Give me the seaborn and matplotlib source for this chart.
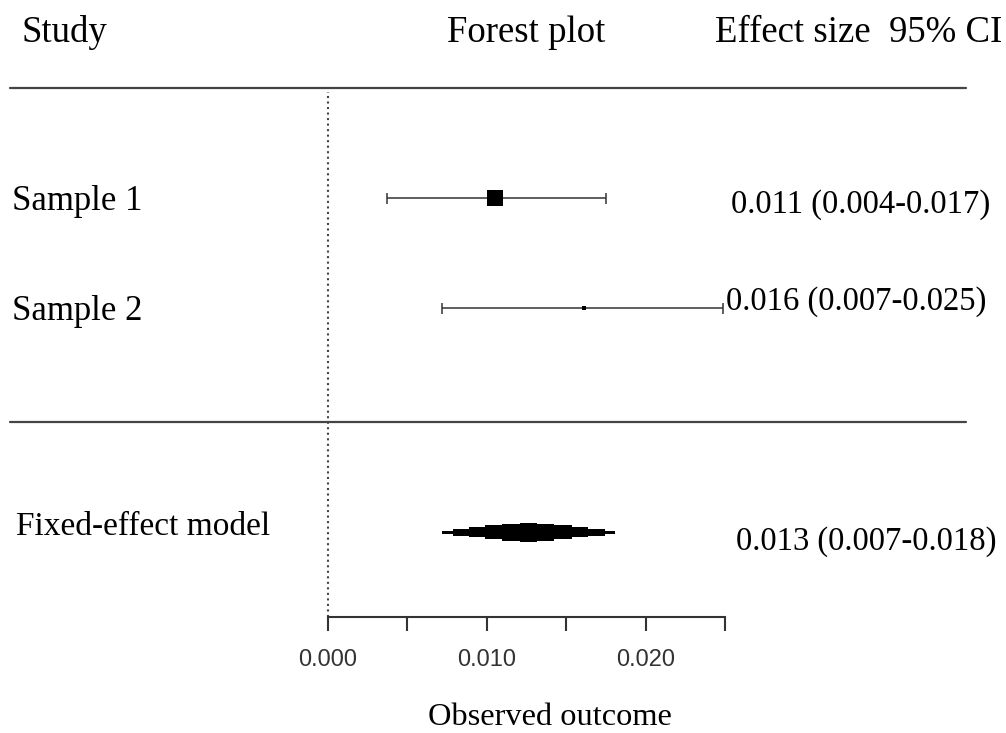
import numpy as np
import pandas as pd
import matplotlib
matplotlib.use("Agg")
import matplotlib.pyplot as plt
from matplotlib.lines import Line2D
import seaborn as sns

# %% dados
studies       = ["Sample 1", "Sample 2"]
estimates     = [0.0105, 0.0161]
ci_low        = [0.0037, 0.0072]
ci_high       = [0.0175, 0.0249]
weights       = [62, 38]
effect_labels = ["0.011 (0.004-0.017)", "0.016 (0.007-0.025)"]

pooled_name  = "Fixed-effect model"
pooled_est   = 0.0126
pooled_low   = 0.0072
pooled_high  = 0.0181
pooled_label = "0.013 (0.007-0.018)"

tick_values = [0.000, 0.005, 0.010, 0.015, 0.020, 0.025]
tick_labels = ["0.000", "", "0.010", "", "0.020", ""]

# %% layout (pixels of the 1006x733 canvas)
W, H = 1006, 733
ROW = 110                      # px between study rows
def fx(px): return px / W
def fy(py): return 1 - py / H

sns.set_style("white")
plt.rcParams['font.family'] = ['Liberation Serif', 'DejaVu Serif']
plt.rcParams['text.color'] = 'black'

fig = plt.figure(figsize=(W / 100, H / 100), dpi=100)
ax = fig.add_axes([fx(328), fy(617), fx(725) - fx(328), fy(88) - fy(617)])
ax.set_xlim(tick_values[0], tick_values[-1])
ax.set_ylim((617 - 88) / ROW, 0)

df = pd.DataFrame({"study": studies, "est": estimates, "lo": ci_low,
                   "hi": ci_high, "w": weights, "y": [1.0, 2.0]})
pooled_y = 4.04
line_col = "#333333"

# intervalos de confiança
cap = 0.05
ax.hlines(df["y"], df["lo"], df["hi"], color=line_col, lw=1.1, clip_on=False)
ax.vlines(df["lo"], df["y"] - cap, df["y"] + cap, color=line_col, lw=1.1, clip_on=False)
ax.vlines(df["hi"], df["y"] - cap, df["y"] + cap, color=line_col, lw=1.1, clip_on=False)

# quadrados (tamanho pelo peso)
sns.scatterplot(data=df, x="est", y="y", size="w", sizes=(8, 135), marker="s",
                color="black", edgecolor="none", legend=False, ax=ax,
                zorder=3, clip_on=False)

# losango escalonado do modelo de efeito fixo
steps = [0, 0.12, 0.31, 0.50, 0.70, 0.90]
thick = [3, 7, 10, 14, 17, 19]
for f, t in zip(steps, thick):
    left = pooled_low + f * (pooled_est - pooled_low)
    right = pooled_high - f * (pooled_high - pooled_est)
    ax.barh(pooled_y, right - left, left=left, height=t / ROW,
            color="black", linewidth=0)

# linha de referência em zero
ax.axvline(0, ymin=0, ymax=0.992, color="#444444", ls=":", lw=1.5, clip_on=False)

# eixo x
sns.despine(ax=ax, left=True)
ax.spines['bottom'].set_bounds(tick_values[0], tick_values[-1])
ax.spines['bottom'].set_linewidth(1.5)
ax.spines['bottom'].set_color(line_col)
ax.set_yticks([])
ax.set_xticks(tick_values)
ax.set_xticklabels(tick_labels, fontfamily='Liberation Sans', fontsize=17, color=line_col)
ax.tick_params(axis='x', bottom=True, direction='out', length=10, width=1.5,
               color=line_col, pad=13)
ax.set_xlabel("")
ax.set_ylabel("")

# linhas horizontais de separação
for py in (88, 422):
    fig.add_artist(Line2D([fx(10), fx(966)], [fy(py), fy(py)],
                          transform=fig.transFigure, color="#444444", lw=1.6))

# cabeçalhos
fig.text(fx(21), fy(42), "Study", fontsize=26.5, va='baseline')
fig.text(fx(447), fy(42), "Forest plot", fontsize=26.5, va='baseline')
fig.text(fx(715), fy(42), "Effect size  95% CI", fontsize=26.5, va='baseline')

# rótulos dos estudos e tamanhos de efeito
for name, lab, bl_left, bl_right, xr in zip(studies, effect_labels,
                                            [210, 320], [213, 310], [731, 726]):
    fig.text(fx(12), fy(bl_left), name, fontsize=25, va='baseline')
    fig.text(fx(xr), fy(bl_right), lab, fontsize=23.5, va='baseline')

fig.text(fx(16), fy(535), pooled_name, fontsize=24, va='baseline')
fig.text(fx(736), fy(550), pooled_label, fontsize=23.5, va='baseline')

fig.text(fx(550), fy(725), "Observed outcome", fontsize=23.3, ha='center', va='baseline')

plt.savefig("out.png", dpi=100)
